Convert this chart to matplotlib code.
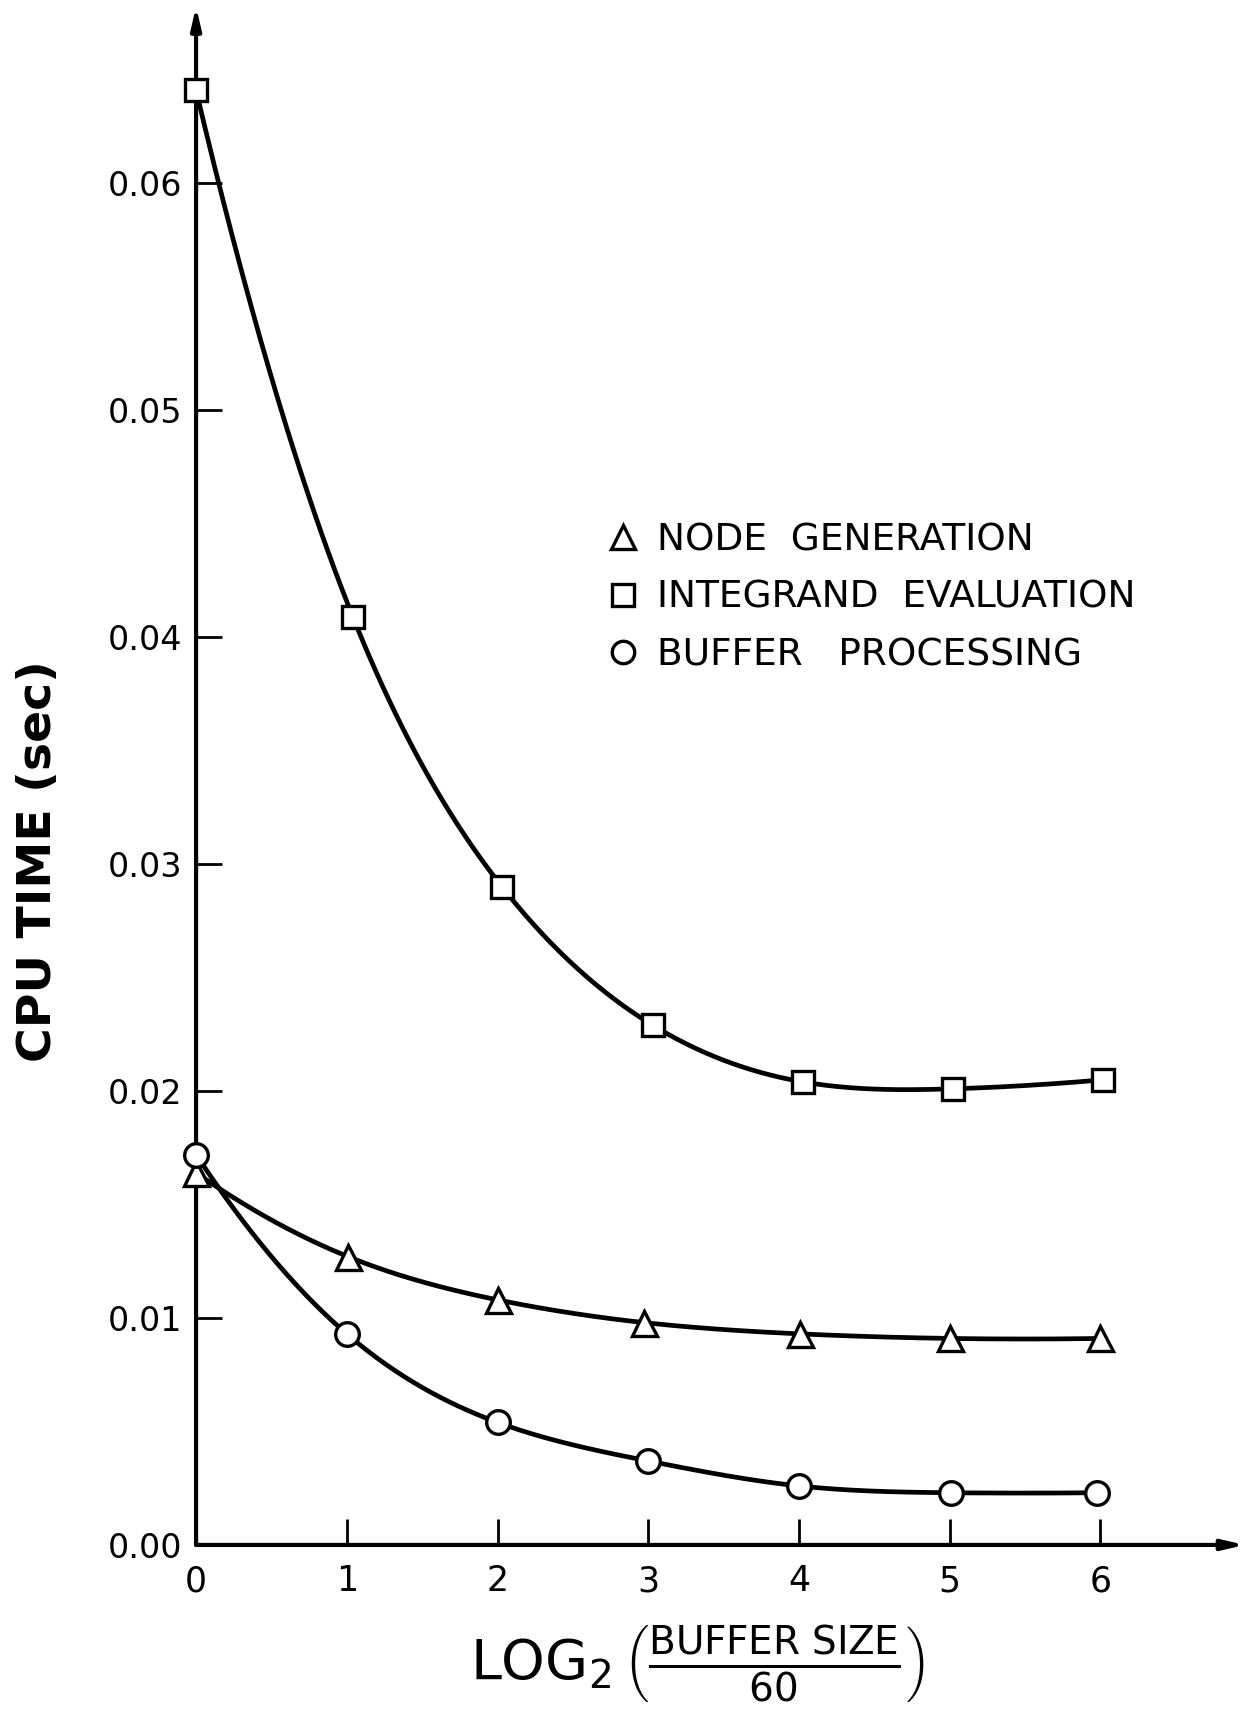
import numpy as np
import matplotlib.pyplot as plt
from matplotlib.lines import Line2D

plt.rcParams['font.family'] = ['DejaVu Sans']
plt.rcParams['mathtext.fontset'] = 'custom'
plt.rcParams['mathtext.rm'] = 'DejaVu Sans'

# values
x_ticks = [0, 1, 2, 3, 4, 5, 6]
y_ticks = [0.00, 0.01, 0.02, 0.03, 0.04, 0.05, 0.06]

x_integrand = [0, 1.04, 2.03, 3.03, 4.03, 5.02, 6.02]
integrand = [0.0641, 0.0409, 0.0290, 0.0229, 0.0204, 0.0201, 0.0205]

x_node = [0, 1.01, 2.0, 2.97, 4.01, 5.0, 6.0]
node = [0.0164, 0.0127, 0.0108, 0.0098, 0.0093, 0.0091, 0.0091]

x_buffer = [0, 1.0, 2.0, 3.0, 4.0, 5.01, 5.98]
buffer = [0.0172, 0.0093, 0.0054, 0.0037, 0.0026, 0.0023, 0.0023]

labels = ['NODE  GENERATION', 'INTEGRAND  EVALUATION', 'BUFFER   PROCESSING']


# smooth curve through the points (cubic spline, parabolic runout ends)
def smooth(x, y, n=400):
    x = np.asarray(x, float)
    y = np.asarray(y, float)
    k = len(x)
    h = np.diff(x)
    A = np.zeros((k, k))
    r = np.zeros(k)
    A[0, 0], A[0, 1] = 1, -1
    A[-1, -1], A[-1, -2] = 1, -1
    for i in range(1, k - 1):
        A[i, i - 1] = h[i - 1]
        A[i, i] = 2 * (h[i - 1] + h[i])
        A[i, i + 1] = h[i]
        r[i] = 6 * ((y[i + 1] - y[i]) / h[i] - (y[i] - y[i - 1]) / h[i - 1])
    M = np.linalg.solve(A, r)
    xs = np.linspace(x[0], x[-1], n)
    j = np.clip(np.searchsorted(x, xs) - 1, 0, k - 2)
    hj = h[j]
    a = (x[j + 1] - xs) / hj
    b = (xs - x[j]) / hj
    ys = (a * y[j] + b * y[j + 1]
          + ((a ** 3 - a) * M[j] + (b ** 3 - b) * M[j + 1]) * hj ** 2 / 6)
    return xs, ys


fig = plt.figure(figsize=(12.41, 17.09), dpi=100)
ax = fig.add_axes([0.158, 0.096, 0.838, 0.8976])
ax.set_xlim(0, 6.9)
ax.set_ylim(0, 0.0676)

for s in ax.spines.values():
    s.set_visible(False)

# axes drawn as arrows
arrow = dict(arrowstyle='-|>,head_length=1.3,head_width=0.3', lw=3.0,
             color='black', shrinkA=0, shrinkB=0)
ax.annotate('', xy=(0, 0.0678), xytext=(0, 0), arrowprops=arrow,
            annotation_clip=False)
ax.annotate('', xy=(6.96, 0), xytext=(0, 0), arrowprops=arrow,
            annotation_clip=False)

series = [
    (x_node, node, '^', 18),
    (x_integrand, integrand, 's', 16),
    (x_buffer, buffer, 'o', 17),
]
for xs, ys, m, ms in series:
    cx, cy = smooth(xs, ys)
    ax.plot(cx, cy, color='black', lw=3.4, solid_capstyle='round',
            clip_on=False, zorder=2)
    ax.plot(xs, ys, ls='none', marker=m, ms=ms, mfc='white', mec='black',
            mew=2.4, clip_on=False, zorder=3)

ax.set_xticks(x_ticks)
ax.set_xticklabels([str(t) for t in x_ticks])
ax.set_yticks(y_ticks)
ax.set_yticklabels(['%.2f' % t for t in y_ticks])
ax.tick_params(axis='both', direction='in', length=19, width=2.0,
               labelsize=24, color='black')
ax.tick_params(axis='x', pad=14, labelsize=25)
ax.tick_params(axis='y', pad=10)

handles = [Line2D([], [], ls='none', marker=m, ms=ms * 0.95, mfc='white',
                  mec='black', mew=2.4) for _, _, m, ms in series]
ax.legend(handles, labels, loc='upper left', bbox_to_anchor=(0.378, 0.679),
          frameon=False, fontsize=27, handlelength=0.8, handletextpad=0.5,
          labelspacing=0.58, borderpad=0)

fig.text(0.031, 0.496, 'CPU TIME (sec)', rotation=90, ha='center',
         va='center', fontsize=34, fontweight='bold')
fig.text(0.5617, 0.026,
         r'$\mathrm{LOG}_{2}\,\left(\frac{\mathrm{BUFFER\ SIZE}}{60}\right)$',
         ha='center', va='center', fontsize=40)

fig.savefig('out.png', dpi=100)
